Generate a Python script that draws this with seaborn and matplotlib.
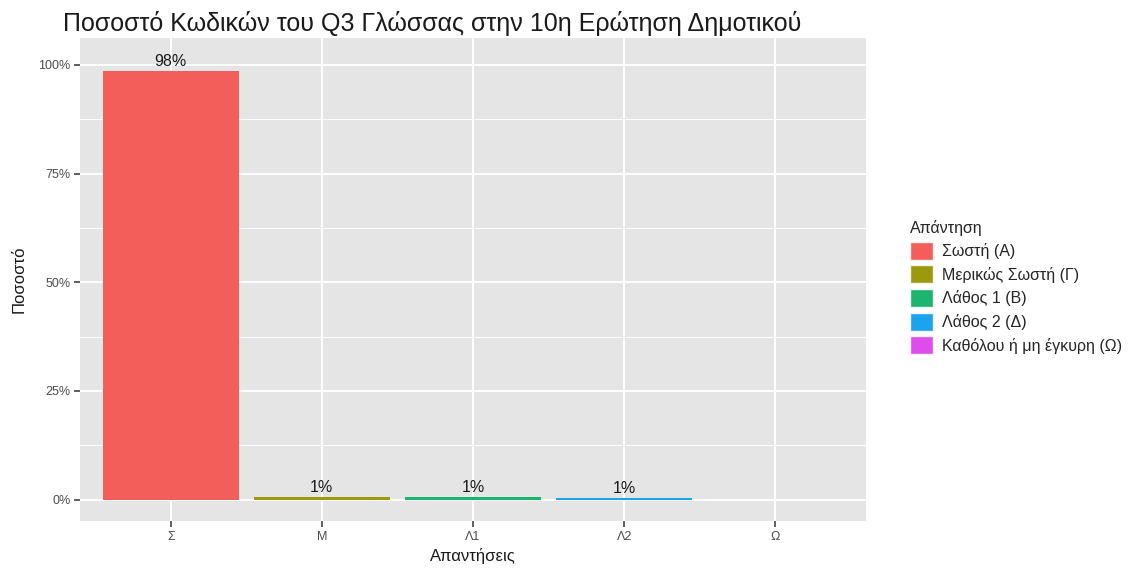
import matplotlib
matplotlib.use("Agg")
import matplotlib.pyplot as plt
import seaborn as sns
import pandas as pd
import numpy as np
from matplotlib.patches import Patch
from matplotlib.ticker import MultipleLocator

categories = ["Σ", "Μ", "Λ1", "Λ2", "Ω"]
legend_labels = ["Σωστή (Α)", "Μερικώς Σωστή (Γ)", "Λάθος 1 (Β)", "Λάθος 2 (Δ)", "Καθόλου ή μη έγκυρη (Ω)"]
values = [0.986, 0.006, 0.006, 0.005, 0.0]
labels = ["98%", "1%", "1%", "1%", ""]
colors = ["#F45E5A", "#9C9A0C", "#1CB46F", "#1BA3EE", "#DE4DEB"]

df = pd.DataFrame({"cat": categories, "val": values, "resp": legend_labels})

sns.set_theme(style="darkgrid")
plt.rcParams["font.family"] = ["Liberation Sans", "DejaVu Sans"]

fig = plt.figure(figsize=(11.29, 5.71), dpi=100)
ax = fig.add_axes([0.0709, 0.0876, 0.6961, 0.8459])
ax.set_facecolor("#E5E5E5")

sns.barplot(data=df, x="cat", y="val", hue="resp", palette=colors,
            order=categories, hue_order=legend_labels, dodge=False,
            width=0.9, ax=ax, legend=False, saturation=1, linewidth=0)

for i, (v, lab) in enumerate(zip(values, labels)):
    if lab:
        ax.text(i, v + 0.004, lab, ha="center", va="bottom", fontsize=11.5, color="#1a1a1a")

ax.set_xlim(-0.6, 4.6)
ax.set_ylim(-0.049, 1.062)
ax.set_yticks([0, 0.25, 0.5, 0.75, 1.0])
ax.set_yticklabels(["0%", "25%", "50%", "75%", "100%"])
ax.yaxis.set_minor_locator(MultipleLocator(0.125))
ax.grid(which="major", color="white", linewidth=1.4)
ax.grid(which="minor", axis="y", color="white", linewidth=0.7)
ax.set_axisbelow(True)
for s in ax.spines.values():
    s.set_visible(False)
ax.tick_params(axis="both", which="major", length=4, width=1.1, color="#333333",
               labelsize=9, labelcolor="#4D4D4D", pad=3, bottom=True, left=True)
ax.tick_params(axis="both", which="minor", length=0)

ax.set_xlabel("Απαντήσεις", fontsize=12, color="#1a1a1a", labelpad=4)
ax.set_ylabel("Ποσοστό", fontsize=12, color="#1a1a1a", labelpad=8)
fig.text(0.056, 0.958, "Ποσοστό Κωδικών του Q3 Γλώσσας στην 10η Ερώτηση Δημοτικού",
         fontsize=18, color="#1a1a1a", ha="left", va="center")

handles = [Patch(facecolor=c, edgecolor="#F2F2F2", label=l) for c, l in zip(colors, legend_labels)]
leg = fig.legend(handles=handles, title="Απάντηση", loc="center left",
                 bbox_to_anchor=(0.8, 0.497), frameon=False, fontsize=11.5,
                 title_fontsize=11.5, handlelength=1.45, handleheight=1.35,
                 labelspacing=0.36, handletextpad=0.6, borderaxespad=0)
leg._legend_box.align = "left"

fig.savefig("out.png", dpi=100)
